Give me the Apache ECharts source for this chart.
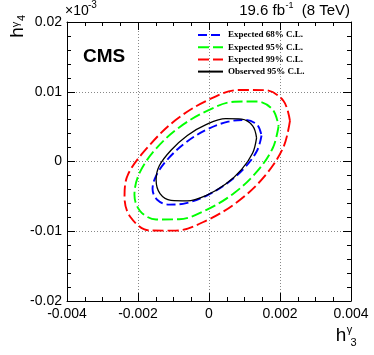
<!DOCTYPE html>
<html>
<head>
<meta charset="utf-8">
<script src="https://cdn.jsdelivr.net/npm/echarts@6/dist/echarts.min.js"></script>
<style>
  html, body { margin: 0; padding: 0; background: #fff; }
  #chart { width: 374px; height: 355px; }
</style>
</head>
<body>
<div id="chart"></div>
<script>
// contour points: [h3, h4], each loop closed below
const exp68 = [
  [0.00148, 0.00373], [0.00136, 0.00162], [0.00103, -0.00075], [0.00054, -0.00301],
  [-0.00005, -0.00485], [-0.00064, -0.00597], [-0.00113, -0.00618], [-0.00146, -0.00548],
  [-0.00159, -0.00396], [-0.00147, -0.00185], [-0.00113, 0.00052], [-0.00064, 0.00278],
  [-0.00005, 0.00462], [0.00054, 0.00572], [0.00103, 0.00595], [0.00136, 0.00525]
]
const exp95 = [
  [0.00196, 0.00505], [0.0018, 0.00197], [0.00136, -0.00139], [0.00071, -0.00452],
  [-0.00007, -0.00693], [-0.00084, -0.00828], [-0.00149, -0.00832], [-0.00194, -0.0071],
  [-0.0021, -0.00476], [-0.00196, -0.00168], [-0.00152, 0.00168], [-0.00086, 0.00481],
  [-0.00007, 0.00722], [0.00071, 0.00857], [0.00136, 0.00861], [0.0018, 0.00739]
]
const exp99 = [
  [0.00228, 0.00581], [0.0021, 0.0021], [0.0016, -0.00191], [0.00085, -0.0056],
  [-0.00005, -0.00841], [-0.00094, -0.00991], [-0.00169, -0.00987], [-0.00222, -0.00793],
  [-0.00238, -0.00506], [-0.00228, -0.00184], [-0.00169, 0.00225], [-0.00094, 0.00594],
  [-0.00005, 0.00875], [0.00085, 0.01026], [0.0016, 0.01022], [0.0021, 0.00867]
]
const obs95 = [
  [0.00134, 0.0034], [0.00123, 0.00122], [0.00092, -0.00112], [0.00047, -0.00324],
  [-0.00007, -0.00484], [-0.00061, -0.00565], [-0.00107, -0.00558], [-0.00138, -0.00462],
  [-0.00149, -0.00263], [-0.0014, -0.00062], [-0.00107, 0.00161], [-0.00061, 0.00373],
  [-0.00007, 0.00532], [0.00047, 0.00614], [0.00092, 0.00607], [0.00123, 0.00511]
]

const xTickLabels = ['-0.004', '-0.002', '0', '0.002', '0.004']
const yTickLabels = ['-0.02', '-0.01', '0', '0.01', '0.02']
const legendNames = ['Expected 68% C.L.', 'Expected 95% C.L.', 'Expected 99% C.L.', 'Observed 95% C.L.']

const closeLoop = pts => pts.concat([pts[0]])

const chart = echarts.init(document.getElementById('chart'))

const frameAxis = {
  axisLine: { show: true, onZero: false, lineStyle: { color: '#000', width: 1 } },
  axisTick: { show: true, inside: true, length: 8, lineStyle: { color: '#000' } }
}
const minor = n => ({ show: true, splitNumber: n, length: 4, lineStyle: { color: '#000' } })
const gridLine = { show: true, lineStyle: { color: '#888', type: [1, 2], width: 1 } }
const tickFont = { color: '#000', fontFamily: 'Liberation Sans', fontSize: 14 }

const contour = (name, data, color, dash) => ({
  name: name,
  type: 'line',
  data: closeLoop(data),
  smooth: 0.35,
  symbol: 'none',
  lineStyle: { color: color, width: dash ? 1.9 : 1.3, type: dash || 'solid' },
  itemStyle: { color: color }
})

const txt = (text, x, y, font, align, extra) => Object.assign({
  type: 'text', x: x, y: y,
  style: { text: text, fill: '#000', font: font, textAlign: align || 'left', textVerticalAlign: 'middle' }
}, extra || {})
const sans = s => s + 'px "Liberation Sans"'

chart.setOption({
  animation: false,
  backgroundColor: '#fff',
  grid: { left: 67, right: 23, top: 22, bottom: 54 },
  xAxis: [
    Object.assign({
      type: 'value', position: 'bottom', min: -0.004, max: 0.004, interval: 0.002,
      splitLine: gridLine, minorTick: minor(4),
      axisLabel: { margin: 6, formatter: (v, i) => xTickLabels[i], ...tickFont }
    }, frameAxis),
    Object.assign({
      type: 'value', position: 'top', min: -0.004, max: 0.004, interval: 0.002,
      splitLine: { show: false }, minorTick: minor(4), axisLabel: { show: false }
    }, frameAxis)
  ],
  yAxis: [
    Object.assign({
      type: 'value', position: 'left', min: -0.02, max: 0.02, interval: 0.01,
      splitLine: gridLine, minorTick: minor(5),
      axisLabel: { margin: 5, formatter: (v, i) => yTickLabels[i], ...tickFont }
    }, frameAxis),
    Object.assign({
      type: 'value', position: 'right', min: -0.02, max: 0.02, interval: 0.01,
      splitLine: { show: false }, minorTick: minor(5), axisLabel: { show: false }
    }, frameAxis)
  ],
  legend: {
    data: legendNames,
    orient: 'vertical',
    left: 197,
    top: 30.5,
    padding: 0,
    itemWidth: 25,
    itemHeight: 9,
    itemGap: 3.2,
    itemStyle: { opacity: 0 },
    textStyle: { fontFamily: 'Liberation Serif', fontWeight: 'bold', fontSize: 9, color: '#000' }
  },
  series: [
    contour(legendNames[2], exp99, '#ff0000', [11, 4]),
    contour(legendNames[1], exp95, '#00ff00', [11, 4]),
    contour(legendNames[0], exp68, '#0000ff', [9, 4]),
    contour(legendNames[3], obs95, '#000000', null)
  ],
  graphic: [
    txt('CMS', 83, 57, 'bold 19px "Liberation Sans"', 'left'),
    // energy / lumi label
    txt('(8 TeV)', 350, 11, sans(15), 'right'),
    txt('-1', 285.5, 6, sans(9), 'left'),
    txt('19.6 fb', 285, 11, sans(15), 'right'),
    // exponent of y axis
    txt('\u00d710', 65, 11, sans(14), 'left'),
    txt('-3', 88, 5, sans(10), 'left'),
    // x axis title
    txt('h', 341, 336, sans(19), 'center'),
    txt('\u03b3', 349.5, 330, sans(11), 'center'),
    txt('3', 353.5, 343, sans(11), 'center'),
    // y axis title (rotated)
    txt('h', 18, 32.5, sans(19), 'center', { rotation: Math.PI / 2 }),
    txt('\u03b3', 15.5, 24.5, sans(11), 'center', { rotation: Math.PI / 2 }),
    txt('4', 21.5, 18, sans(11), 'center', { rotation: Math.PI / 2 })
  ]
})
</script>
</body>
</html>
